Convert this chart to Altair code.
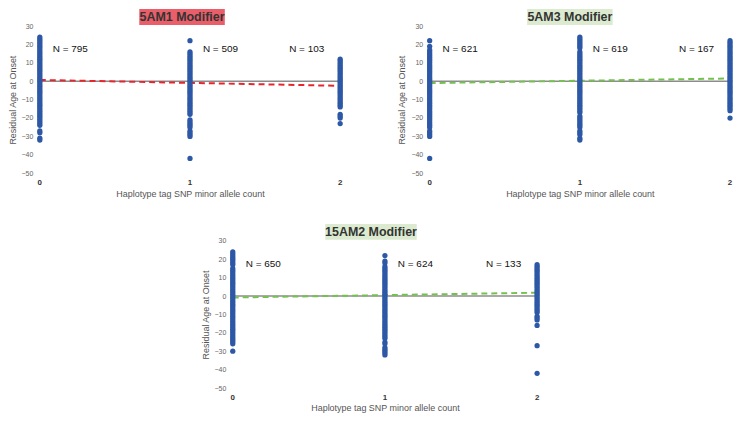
import altair as alt
import pandas as pd

# ---------------- data ----------------
counts = [0, 1, 2]
count_labels = ["0", "1", "2"]
panel_titles = ["5AM1 Modifier", "5AM3 Modifier", "15AM2 Modifier"]
title_fills = ["#ea5e69", "#dcebd0", "#dcebd0"]
fit_colors = ["#e8242c", "#74c150", "#74c150"]
n_labels = [
    ["N = 795", "N = 509", "N = 103"],
    ["N = 621", "N = 619", "N = 167"],
    ["N = 650", "N = 624", "N = 133"],
]
y_ticks = [-50, -40, -30, -20, -10, 0, 10, 20, 30]

# residual age at onset values per allele count (dense strips listed value by value)
am1_0 = [24, 23, 22, 21, 20, 19, 18, 17, 16, 15, 14, 13, 12, 11, 10, 9, 8, 7, 6, 5, 4, 3, 2, 1, 0,
         -1, -2, -3, -4, -5, -6, -7, -8, -9, -10, -11, -12, -13, -14, -15, -16, -17, -18, -19, -20,
         -21, -22, -23, -24, -27, -28, -31, -32]
am1_1 = [22, 16, 15, 14, 13, 12, 11, 10, 9, 8, 7, 6, 5, 4, 3, 2, 1, 0, -1, -2, -3, -4, -5, -6, -7,
         -8, -9, -10, -11, -12, -13, -14, -15, -16, -17, -18, -21, -22, -23, -24, -25, -27, -28,
         -29, -30, -42]
am1_2 = [12, 11, 10, 9, 8, 7, 6, 5, 4, 3, 2, 1, 0, -1, -2, -3, -4, -5, -6, -7, -8, -9, -10, -11,
         -12, -13, -14, -18, -19, -20, -23]

am3_0 = [22, 19, 17, 16, 15, 14, 13, 12, 11, 10, 9, 8, 7, 6, 5, 4, 3, 2, 1, 0, -1, -2, -3, -4, -5,
         -6, -7, -8, -9, -10, -11, -12, -13, -14, -15, -16, -17, -18, -19, -20, -21, -22, -23, -24,
         -25, -27, -28, -29, -30, -42]
am3_1 = [24, 23, 22, 21, 20, 19, 18, 16, 15, 14, 13, 12, 11, 10, 9, 8, 7, 6, 5, 4, 3, 2, 1, 0,
         -1, -2, -3, -4, -5, -6, -7, -8, -9, -10, -11, -12, -13, -14, -15, -16, -17, -19, -20, -21,
         -22, -23, -24, -25, -27, -28, -29, -31, -32]
am3_2 = [22, 21, 20, 19, 18, 17, 16, 15, 14, 13, 12, 11, 10, 9, 8, 7, 6, 5, 4, 3, 2, 1, 0, -1, -2,
         -3, -4, -5, -6, -7, -8, -9, -10, -11, -12, -13, -14, -15, -16, -20]

am15_0 = [24, 23, 22, 21, 20, 19, 18, 17, 15, 14, 13, 12, 11, 10, 9, 8, 7, 6, 5, 4, 3, 2, 1, 0,
          -1, -2, -3, -4, -5, -6, -7, -8, -9, -10, -11, -12, -13, -14, -15, -16, -17, -18, -19,
          -20, -21, -22, -23, -24, -25, -26, -30]
am15_1 = [22, 19, 18, 16, 15, 14, 13, 12, 11, 10, 9, 8, 7, 6, 5, 4, 3, 2, 1, 0, -1, -2, -3, -4,
          -5, -6, -7, -8, -9, -10, -11, -12, -13, -14, -15, -16, -17, -18, -19, -20, -21, -22, -23,
          -25, -26, -28, -29, -30, -31, -32]
am15_2 = [17, 16, 15, 14, 13, 12, 11, 10, 9, 8, 7, 6, 5, 4, 3, 2, 1, 0, -1, -2, -3, -4, -5, -6,
          -7, -8, -9, -11, -12, -13, -16, -27, -42]

residuals = [[am1_0, am1_1, am1_2], [am3_0, am3_1, am3_2], [am15_0, am15_1, am15_2]]

# dashed fitted line: value at allele count 0 and at 2
fit_start = [0.7, -1.0, -0.8]
fit_end = [-2.5, 1.5, 1.8]

POINT_BLUE = "#2d58a6"
W_TOP, W_BOT, H = 302, 306, 148
BOX_SHIFT = [-8, -10, -14]
BOX_HALF = [43, 43, 46]


def panel(i, width):
    rows_x, rows_y = [], []
    for c, vals in zip(counts, residuals[i]):
        rows_x += [c] * len(vals)
        rows_y += vals
    pts = pd.DataFrame({"count": rows_x, "res": rows_y})

    xscale = alt.Scale(domain=[0, 2], nice=False, zero=False)
    yscale = alt.Scale(domain=[-50, 30], nice=False)
    xaxis = alt.Axis(values=counts, labels=False,
                     title="Haplotype tag SNP minor allele count",
                     titleFontWeight="normal", titleFontSize=9,
                     titleColor="#555555", titlePadding=16)
    yaxis = alt.Axis(values=y_ticks, tickCount=12, format="d",
                     title="Residual Age at Onset", labelFontSize=7, labelColor="#666666",
                     titleFontWeight="normal", titleFontSize=9, titleColor="#555555",
                     titlePadding=4, labelPadding=7, labelOverlap=False, labelFlush=False,
                     labelBound=False)
    xenc = alt.X("count:Q", scale=xscale, axis=xaxis)
    yenc = alt.Y("res:Q", scale=yscale, axis=yaxis)

    zero = alt.Chart(pd.DataFrame({"count": [counts[0], counts[-1]], "res": [0, 0]})).mark_line(
        color="#8c8c8c", strokeWidth=1.5).encode(x=xenc, y=yenc)
    fit = alt.Chart(pd.DataFrame({"count": [counts[0], counts[-1]],
                                  "res": [fit_start[i], fit_end[i]]})).mark_line(
        color=fit_colors[i], strokeWidth=2, strokeDash=[6, 4]).encode(x=xenc, y=yenc)
    points = alt.Chart(pts).mark_circle(size=28, opacity=1, color=POINT_BLUE).encode(
        x=xenc, y=yenc)

    # category tick labels under the plot, positioned through the x scale
    ticks = alt.Chart(pd.DataFrame({"count": counts, "tick": count_labels})).mark_text(
        fontSize=8, fontWeight="bold", color="#333333", font="Liberation Sans",
        baseline="top").encode(x=xenc, y=alt.value(H + 6), text="tick:N")

    lab = pd.DataFrame({"count": counts, "label": n_labels[i]})
    labels_right = alt.Chart(lab.iloc[:2]).mark_text(
        align="left", baseline="middle", dx=13, fontSize=10, color="#111111",
        font="Liberation Sans").encode(x=xenc, y=alt.datum(17.5), text="label:N")
    labels_left = alt.Chart(lab.iloc[2:]).mark_text(
        align="right", baseline="middle", dx=-16, fontSize=10, color="#111111",
        font="Liberation Sans").encode(x=xenc, y=alt.datum(17.5), text="label:N")

    cx = width / 2 + BOX_SHIFT[i]
    hw = BOX_HALF[i]
    tdf = pd.DataFrame({"t": [panel_titles[i]]})
    box = alt.Chart(tdf).mark_rect(color=title_fills[i]).encode(
        x=alt.value(cx - hw), x2=alt.value(cx + hw), y=alt.value(-17), y2=alt.value(-1))
    ttl = alt.Chart(tdf).mark_text(fontSize=12.5, fontWeight="bold", color="#333333",
                                   font="Liberation Sans", baseline="middle").encode(
        x=alt.value(cx), y=alt.value(-9), text="t:N")

    return alt.layer(zero, fit, points, ticks, labels_right, labels_left, box, ttl).properties(
        width=width, height=H)


top = alt.hconcat(panel(0, W_TOP), panel(1, W_TOP), spacing=54)
chart = alt.vconcat(top, panel(2, W_BOT), center=True, spacing=26).properties(
    padding=0
).configure_view(stroke=None).configure_axis(grid=False, domain=False, ticks=False,
                                              labelOverlap=False,
                                              labelFont="Liberation Sans",
                                              titleFont="Liberation Sans")

chart.save("out.html", embed_options={"renderer": "svg", "actions": False})
